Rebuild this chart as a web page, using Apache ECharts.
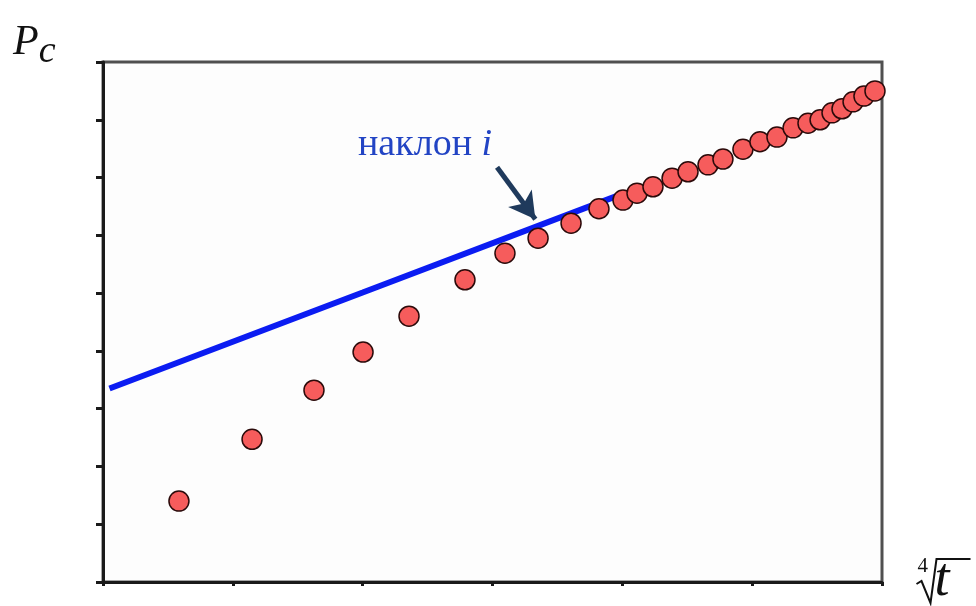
<!DOCTYPE html>
<html>
<head>
<meta charset="utf-8">
<script src="https://cdn.jsdelivr.net/npm/echarts@6/dist/echarts.min.js"></script>
<style>
  html, body { margin: 0; padding: 0; background: #ffffff; }
  #chart { width: 976px; height: 606px; }
</style>
</head>
<body>
<div id="chart"></div>
<script>
// Pressure vs fourth root of time: measured points and the straight-line fit
const rootT = [0.585, 1.148, 1.625, 2.003, 2.357, 2.788, 3.096, 3.351, 3.605, 3.820,
               4.005, 4.113, 4.236, 4.383, 4.506, 4.660, 4.775, 4.929, 5.060, 5.191,
               5.315, 5.430, 5.523, 5.615, 5.692, 5.777, 5.861, 5.946];
const pressure = [1.40, 2.47, 3.32, 3.98, 4.60, 5.23, 5.69, 5.95, 6.21, 6.46,
                  6.61, 6.73, 6.84, 6.99, 7.10, 7.22, 7.32, 7.49, 7.62, 7.70,
                  7.86, 7.94, 8.00, 8.12, 8.19, 8.31, 8.41, 8.50];

// Slope line drawn through the late-time trend
const fitX = [0.05, 2.0, 3.98];
const fitY = [3.35, 5.01, 6.70];

// Arrow pointing at the slope line
const arrowFrom = [3.035, 7.18];
const arrowTo = [3.33, 6.28];

const slopeLabel = 'наклон';
const slopeSymbol = 'i';

const chart = echarts.init(document.getElementById('chart'));

const points = rootT.map((x, k) => [x, pressure[k]]);
const fitLine = fitX.map((x, k) => [x, fitY[k]]);

chart.setOption({
  backgroundColor: '#ffffff',
  animation: false,
  grid: {
    left: 103, right: 94, top: 62, bottom: 24,
    show: true, borderColor: '#505050', borderWidth: 3, backgroundColor: '#fdfdfd'
  },
  xAxis: {
    type: 'value', min: 0, max: 6, interval: 1,
    axisLine: { show: true, lineStyle: { color: '#1a1a1a', width: 3 } },
    axisTick: { show: true, length: 4, lineStyle: { color: '#1a1a1a', width: 3 } },
    axisLabel: { show: false },
    splitLine: { show: false }
  },
  yAxis: {
    type: 'value', min: 0, max: 9, interval: 1,
    axisLine: { show: true, lineStyle: { color: '#1a1a1a', width: 3 } },
    axisTick: { show: true, length: 7, lineStyle: { color: '#1a1a1a', width: 3 } },
    axisLabel: { show: false },
    splitLine: { show: false }
  },
  series: [
    {
      type: 'line',
      data: fitLine,
      symbol: 'none',
      lineStyle: { color: '#0b1cf2', width: 6 },
      z: 2,
      markLine: {
        silent: true,
        symbol: ['none', 'arrow'],
        symbolSize: [22, 26],
        label: { show: false },
        lineStyle: { color: '#1f3a5c', width: 5, type: 'solid' },
        data: [[{ coord: arrowFrom }, { coord: arrowTo }]]
      }
    },
    {
      type: 'scatter',
      data: points,
      symbol: 'circle',
      symbolSize: 20,
      itemStyle: { color: '#f65c5c', borderColor: '#2b0a0a', borderWidth: 1.5, opacity: 1 },
      z: 3
    }
  ],
  graphic: [
    {
      type: 'text', left: 13, top: 22,
      style: {
        rich: {
          p: { fontFamily: 'Liberation Serif', fontStyle: 'italic', fontSize: 42, fill: '#111' },
          c: { fontFamily: 'Liberation Serif', fontStyle: 'italic', fontSize: 38, fill: '#111', padding: [18, 0, 0, 0] }
        },
        text: '{p|P}{c|c}'
      }
    },
    {
      type: 'text', left: 358, top: 126,
      style: {
        rich: {
          a: { fontFamily: 'Liberation Serif', fontSize: 38, fill: '#2244c4' },
          b: { fontFamily: 'Liberation Serif', fontStyle: 'italic', fontSize: 38, fill: '#2244c4' }
        },
        text: '{a|' + slopeLabel + ' }{b|' + slopeSymbol + '}'
      }
    },
    {
      type: 'group', left: 914, top: 554,
      children: [
        { type: 'text', x: 5, y: 3, style: { text: '4', fontFamily: 'Liberation Serif', fontSize: 21, fill: '#111' } },
        { type: 'polyline', shape: { points: [[4, 31], [9, 28], [18, 50], [24, 6], [58, 6]] },
          style: { stroke: '#111', lineWidth: 2, fill: null, lineJoin: 'miter' } },
        { type: 'text', x: 22, y: 1, style: { text: 't', fontFamily: 'Liberation Serif', fontStyle: 'italic', fontSize: 54, fill: '#111' } }
      ]
    }
  ]
});
</script>
</body>
</html>
